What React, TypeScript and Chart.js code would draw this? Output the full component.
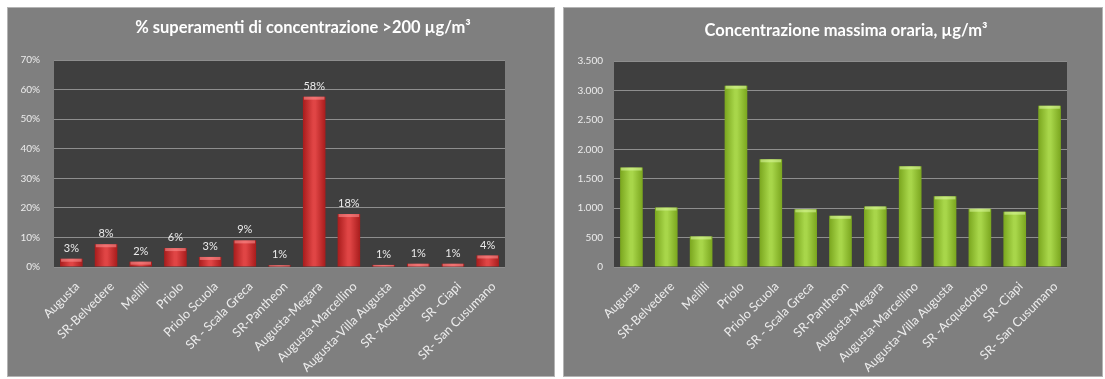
import React, { useEffect, useRef } from "react";
import { Chart, registerables } from "chart.js";

Chart.register(...registerables);

// Monitoring stations (same order in both panels)
const stations = [
  "Augusta",
  "SR-Belvedere",
  "Melilli",
  "Priolo",
  "Priolo Scuola",
  "SR - Scala Greca",
  "SR-Pantheon",
  "Augusta-Megara",
  "Augusta-Marcellino",
  "Augusta-Villa Augusta",
  "SR -Acquedotto",
  "SR -Ciapi",
  "SR- San Cusumano",
];

// % of hours above 200 µg/m³
const exceedPercent = [2.8, 7.7, 1.8, 6.4, 3.4, 9.0, 0.6, 57.6, 17.9, 0.7, 1.1, 1.1, 3.9];

// Maximum hourly concentration, µg/m³
const maxHourly = [1690, 1010, 520, 3080, 1830, 980, 870, 1030, 1710, 1200, 990, 940, 2740];

const exceedTitle = "% superamenti di concentrazione >200 µg/m³";
const maxTitle = "Concentrazione massima oraria, µg/m³";

const FONT = "Lato, 'Noto Sans', sans-serif";
const PANEL_BG = "#7f7f7f";
const PLOT_BG = "#3f3f3f";
const GRID = "#8e8e8e";
const TEXT = "#ececec";
const BAR_PCT = 0.65;

function italianThousands(v: number): string {
  if (v >= 1000) {
    const k = Math.floor(v / 1000);
    const r = v % 1000;
    return `${k}.${String(r).padStart(3, "0")}`;
  }
  return String(v);
}

// Horizontal gradient across each bar: darker edges, brighter middle
function barFill(edge: string, mid: string) {
  return (ctx: any) => {
    const chart = ctx.chart;
    const xs = chart.scales && chart.scales.x;
    if (!xs || !xs.width || ctx.type !== "data") return mid;
    const cx = xs.getPixelForValue(ctx.dataIndex);
    const w = (xs.width / stations.length) * BAR_PCT;
    const g = chart.ctx.createLinearGradient(cx - w / 2, 0, cx + w / 2, 0);
    g.addColorStop(0, edge);
    g.addColorStop(0.45, mid);
    g.addColorStop(0.55, mid);
    g.addColorStop(1, edge);
    return g;
  };
}

const plotBackground = {
  id: "plotBackground",
  beforeDraw(chart: any) {
    const { ctx, chartArea } = chart;
    ctx.save();
    ctx.fillStyle = PLOT_BG;
    ctx.fillRect(chartArea.left, chartArea.top, chartArea.right - chartArea.left, chartArea.bottom - chartArea.top);
    ctx.restore();
  },
};

// Panel heading, placed at a fixed point of the canvas
const panelTitle = {
  id: "panelTitle",
  afterDraw(chart: any, _args: any, opts: any) {
    const { ctx } = chart;
    ctx.save();
    ctx.fillStyle = "#ffffff";
    ctx.font = `bold 16.5px ${FONT}`;
    ctx.textAlign = "center";
    ctx.textBaseline = "middle";
    ctx.fillText(opts.text, opts.x, opts.y);
    ctx.restore();
  },
};

// Light bevel on the top of each bar
const barHighlight = {
  id: "barHighlight",
  afterDatasetsDraw(chart: any, _args: any, opts: any) {
    const { ctx } = chart;
    const meta = chart.getDatasetMeta(0);
    ctx.save();
    ctx.fillStyle = opts.color;
    meta.data.forEach((bar: any) => {
      const h = Math.min(3, bar.base - bar.y);
      if (h <= 0) return;
      ctx.fillRect(bar.x - bar.width / 2 + 1, bar.y, bar.width - 2, h);
    });
    ctx.restore();
  },
};

// Percentage labels above the bars
const valueLabels = {
  id: "valueLabels",
  afterDatasetsDraw(chart: any, _args: any, opts: any) {
    if (!opts || !opts.show) return;
    const { ctx } = chart;
    const meta = chart.getDatasetMeta(0);
    const values = chart.data.datasets[0].data as number[];
    ctx.save();
    ctx.fillStyle = TEXT;
    ctx.font = `11px ${FONT}`;
    ctx.textAlign = "center";
    ctx.textBaseline = "bottom";
    meta.data.forEach((bar: any, i: number) => {
      ctx.fillText(`${Math.round(values[i])}%`, bar.x, bar.y - 5);
    });
    ctx.restore();
  },
};

type PanelProps = {
  left: number;
  width: number;
  title: string;
  titleX: number;
  titleY: number;
  values: number[];
  max: number;
  step: number;
  tickFormat: (v: number) => string;
  yWidth: number;
  yPad: number;
  rightPad: number;
  plotTop: number;
  edge: string;
  mid: string;
  highlight: string;
  showLabels: boolean;
};

const PANEL_TOP = 7;
const PANEL_H = 370;
const PLOT_BOTTOM = 259;

function BarPanel(p: PanelProps) {
  const ref = useRef<HTMLCanvasElement | null>(null);

  useEffect(() => {
    if (!ref.current) return;
    const chart = new Chart(ref.current, {
      type: "bar",
      data: {
        labels: stations,
        datasets: [
          {
            data: p.values,
            backgroundColor: barFill(p.edge, p.mid),
            borderWidth: 0,
            categoryPercentage: 1,
            barPercentage: BAR_PCT,
          },
        ],
      },
      plugins: [plotBackground, barHighlight, valueLabels, panelTitle],
      options: {
        animation: false,
        responsive: false,
        maintainAspectRatio: false,
        devicePixelRatio: 1,
        layout: { padding: { left: 0, right: p.rightPad, top: p.plotTop, bottom: 0 } },
        plugins: {
          legend: { display: false },
          tooltip: { enabled: false },
          title: { display: false },
          panelTitle: { text: p.title, x: p.titleX, y: p.titleY },
          barHighlight: { color: p.highlight },
          valueLabels: { show: p.showLabels },
        } as any,
        scales: {
          x: {
            grid: { display: false, drawTicks: false },
            border: { display: false },
            ticks: {
              color: TEXT,
              font: { family: FONT, size: 12.5 },
              autoSkip: false,
              maxRotation: 45,
              minRotation: 45,
              padding: 12,
              labelOffset: 6,
            },
            afterFit(scale: any) {
              scale.height = PANEL_H - 2 - PLOT_BOTTOM;
            },
          },
          y: {
            min: 0,
            max: p.max,
            grid: { color: GRID, lineWidth: 1, drawTicks: false, tickLength: 0 },
            border: { display: false },
            ticks: {
              stepSize: p.step,
              color: TEXT,
              font: { family: FONT, size: 10 },
              padding: p.yPad,
              callback: (v: any) => p.tickFormat(Number(v)),
            },
            afterFit(scale: any) {
              scale.width = p.yWidth;
            },
          },
        },
      } as any,
    });
    return () => chart.destroy();
  }, []);

  return (
    <div
      style={{
        position: "absolute",
        left: p.left,
        top: PANEL_TOP,
        width: p.width,
        height: PANEL_H,
        boxSizing: "border-box",
        border: "1px solid #b4b4b4",
        background: PANEL_BG,
      }}
    >
      <canvas ref={ref} width={p.width - 2} height={PANEL_H - 2} style={{ display: "block" }} />
    </div>
  );
}

export default function App() {
  return (
    <div
      style={{
        position: "fixed",
        left: 0,
        top: 0,
        width: 1105,
        height: 379,
        background: "#ffffff",
        overflow: "hidden",
      }}
    >
      <BarPanel
        left={7}
        width={548}
        title={exceedTitle}
        titleX={295}
        titleY={20}
        values={exceedPercent}
        max={70}
        step={10}
        tickFormat={(v) => `${v}%`}
        yWidth={46}
        yPad={14}
        rightPad={49}
        plotTop={52}
        edge="#a81c1c"
        mid="#e04545"
        highlight="rgba(255,150,150,0.55)"
        showLabels={true}
      />
      <BarPanel
        left={563}
        width={540}
        title={maxTitle}
        titleX={282}
        titleY={23}
        values={maxHourly}
        max={3500}
        step={500}
        tickFormat={italianThousands}
        yWidth={50}
        yPad={11}
        rightPad={35}
        plotTop={53}
        edge="#7aa61e"
        mid="#a8d64a"
        highlight="rgba(220,250,160,0.55)"
        showLabels={false}
      />
    </div>
  );
}
